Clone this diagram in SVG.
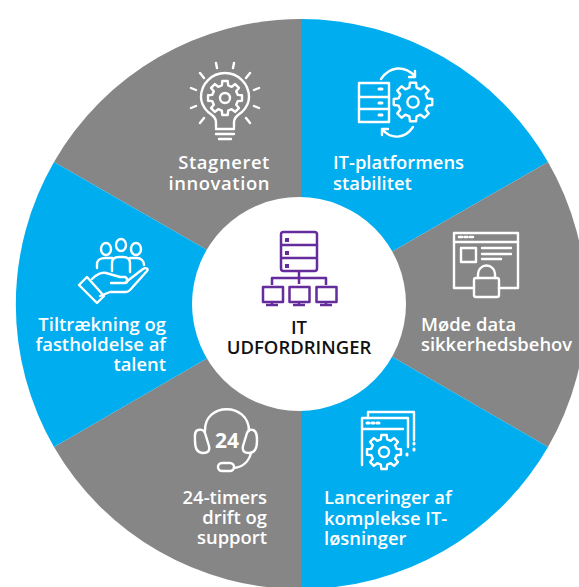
<svg xmlns="http://www.w3.org/2000/svg" xmlns:xlink="http://www.w3.org/1999/xlink" width="579" height="587" viewBox="0 0 579 587">
<style>
.g{fill:#868686}.b{fill:#00adef}
.i{fill:none;stroke:#fff;stroke-width:2.400;stroke-linecap:round;stroke-linejoin:round}
.p{fill:none;stroke:#652d9b;stroke-width:2.500;stroke-linejoin:round}
.pf{fill:#652d9b}
text{font-family:"Open Sans","Liberation Sans",sans-serif;font-weight:600;font-size:18.400px;fill:#fff}
.c{fill:#111;font-size:18.500px;text-anchor:middle}
.e{text-anchor:end}
.w{letter-spacing:.6px}
</style>
<defs>
<g id="gear"><polygon vector-effect="non-scaling-stroke" points="7.37,-1.84 9.88,-1.56 9.88,1.56 7.37,1.84 6.51,3.91 8.09,5.88 5.88,8.09 3.91,6.51 1.84,7.37 1.56,9.88 -1.56,9.88 -1.84,7.37 -3.91,6.51 -5.88,8.09 -8.09,5.88 -6.51,3.91 -7.37,1.84 -9.88,1.56 -9.88,-1.56 -7.37,-1.84 -6.51,-3.91 -8.09,-5.88 -5.88,-8.09 -3.91,-6.51 -1.84,-7.37 -1.56,-9.88 1.56,-9.88 1.84,-7.37 3.91,-6.51 5.88,-8.09 8.09,-5.88 6.51,-3.91"/><circle vector-effect="non-scaling-stroke" r="2.9"/></g>
</defs>
<rect width="579" height="587" fill="#fff"/>
<g id="connectors"></g>
<g id="stagneret">
<path class="g" d="M301 304L54 162A285 285 0 0 1 301 19Z"/>
<g class="i">
<path d="M216 127V122C216 117 212 115 208 112C203 107 201 103 201 97A24 24 0 0 1 249 97C249 103 247 107 242 112C238 115 234 117 234 122V127"/>
<path d="M216 129H234M216 134H234M219 139H231"/>
<use xlink:href="#gear" transform="translate(225,98) scale(1.72)"/>
<path d="M216 63L217 68M234 63L233 68M200 73L204 78M250 73L246 78M191 88L196 90M259 88L254 90M191 108L196 106M259 108L254 106M200 123L204 118M250 123L246 118"/>
</g>
<text class="e w"><tspan x="270" y="169">Stagneret</tspan><tspan x="270" y="190">innovation</tspan></text>
</g>
<g id="platform">
<path class="b" d="M301 304V19A285 285 0 0 1 548 162Z"/>
<g class="i">
<rect x="359" y="83" width="30" height="39"/>
<path d="M359 97H389M359 109H389"/>
<path d="M379 89H382M379 103H382M379 115H382" stroke-width="3"/>
<use xlink:href="#gear" transform="translate(413,102) scale(1.95)"/>
<path d="M381 79C390 66 404 65 415 76M415 71L415 77L409 77"/>
<path d="M413 127C405 139 391 140 382 129M382 135L382 129L388 129"/>
</g>
<text><tspan x="333" y="169">IT-platformens</tspan><tspan x="333" y="190">stabilitet</tspan></text>
</g>
<g id="data">
<path class="g" d="M301 304L548 162A285 285 0 0 1 548 447Z"/>
<g class="i" stroke-linecap="butt">
<path d="M474 288H454V233H518V288H499"/>
<path d="M454 242H518"/>
<path d="M459 237H462M464.500 237H467.500M470 237H473" stroke-width="2.500"/>
<rect x="461" y="248" width="15" height="14"/>
<path d="M482 248H511M482 254H511M482 259H501"/>
<rect x="474" y="278" width="25" height="19" rx="2"/>
<path d="M478 278V274A8.500 8.500 0 0 1 495 274V278"/>
</g>
<text><tspan x="421" y="331">Møde data</tspan><tspan x="421" y="351">sikkerhedsbehov</tspan></text>
</g>
<g id="lanceringer">
<path class="b" d="M301 304L548 447A285 285 0 0 1 301 589Z"/>
<g class="i">
<path d="M368 418V412H414V440"/>
<path d="M362 465V418H408V447M362 429H403"/>
<path d="M367 423H369M372 423H374M377 423H379M414 443V444M414 449V450M407 454V455" stroke-width="3"/>
<use xlink:href="#gear" transform="translate(384,452) scale(1.72)"/>
</g>
<text><tspan x="324" y="504">Lanceringer af</tspan><tspan x="324" y="525">komplekse IT-</tspan><tspan x="324" y="545">løsninger</tspan></text>
</g>
<g id="drift">
<path class="g" d="M301 304V589A285 285 0 0 1 54 447Z"/>
<g class="i">
<path d="M205 431C204 402 249 402 249 431"/>
<path d="M198 430C194 431 195 436 195 441C195 448 197 453 203 453C208 453 210 451 209 446L205 433C204 430 201 429 198 430Z"/>
<path d="M253 430C257 431 257 436 257 441C257 448 255 453 249 453C244 453 242 451 243 446L247 433C248 430 250 429 253 430Z"/>
<path d="M251 453C249 461 243 467 234 468"/>
<rect x="218" y="463" width="16" height="8" rx="4"/>
</g>
<text x="227" y="448" style="font-weight:700;font-size:21px;text-anchor:middle">24</text>
<text class="e"><tspan x="267" y="504">24-timers</tspan><tspan x="267" y="524">drift og</tspan><tspan x="267" y="544">support</tspan></text>
</g>
<g id="talent">
<path class="b" d="M301 304L54 447A285 285 0 0 1 54 162Z"/>
<g class="i">
<ellipse cx="106" cy="249" rx="5" ry="6"/>
<ellipse cx="121" cy="245" rx="5" ry="6"/>
<ellipse cx="136" cy="249" rx="5" ry="6"/>
<path d="M97 268V264C97 260 101 258 105 258H112M112 271V263C112 259 115 257 119 257H123C127 257 130 259 130 263V272M130 258H137C141 258 144 261 144 265"/>
<path d="M79 285L87 277L104 296L97 303Z"/>
<path d="M92 279C96 275 101 272 106 273L120 277H125C128 278 128 283 125 283H111"/>
<path d="M126 282L143 269C146 267 149 269 147 271L130 290C129 291 128 292 126 292H110L100 296"/>
</g>
<text class="e"><tspan x="166" y="331">Tiltrækning og</tspan><tspan x="166" y="351">fastholdelse af</tspan><tspan x="166" y="371">talent</tspan></text>
</g>
<g id="center">
<circle cx="299" cy="304" r="107" fill="#fff"/>
<g class="p">
<rect x="281" y="232" width="36" height="39" rx="2.500"/>
<path d="M281 245H317M281 258H317M299 271V284M272 285V278H326V285"/>
<rect x="263" y="287" width="20" height="15"/>
<rect x="289.500" y="287" width="20" height="15"/>
<rect x="316.500" y="287" width="20" height="15"/>
<path d="M272 302V305M266 305H278M299 302V305M293 305H305M326 302V305M320 305H332"/>
</g>
<rect class="pf" x="285" y="238" width="4" height="4"/>
<rect class="pf" x="285" y="251" width="4" height="4"/>
<rect class="pf" x="285" y="264" width="4" height="4"/>
<text class="c"><tspan x="299" y="334">IT</tspan><tspan x="299" y="354">UDFORDRINGER</tspan></text>
</g>
</svg>
